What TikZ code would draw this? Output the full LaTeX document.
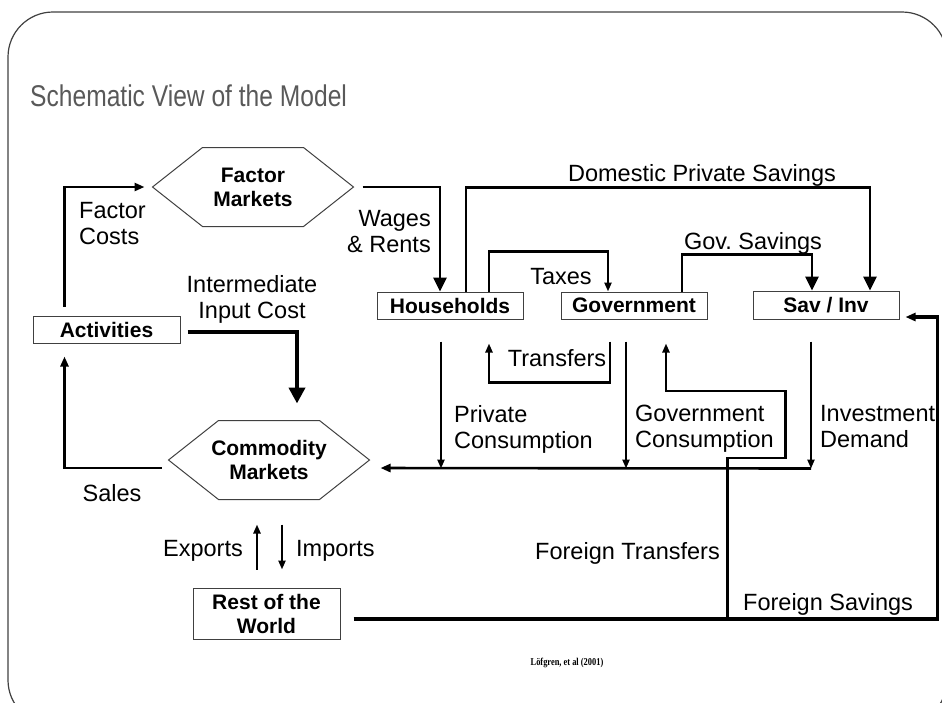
\documentclass[tikz,border=0pt]{standalone}
\usepackage{fontspec}
\setmainfont{Liberation Sans}
\newfontfamily\titlefont[FakeStretch=0.82]{Liberation Sans}
\newfontfamily\citefont[FakeStretch=0.8]{Liberation Serif}
\usepackage{tikz}
\usetikzlibrary{arrows.meta}
\definecolor{titlegray}{RGB}{89,89,89}
\definecolor{framegray}{RGB}{64,64,64}
\frenchspacing

\begin{document}
\begin{tikzpicture}[x=1pt,y=-1pt,
  lbl/.style={inner sep=0pt, font=\fontsize{23.5}{26}\selectfont},
  box/.style={draw=black!75, line width=1pt, inner sep=0pt, align=center,
    font=\fontsize{21}{24}\bfseries\selectfont},
  mkt/.style={box, draw=none, minimum width=200pt, minimum height=78pt},
  flow/.style={line width=2.6pt, -{Triangle[length=10pt,width=8pt]}},
  thinflow/.style={line width=2.4pt, -{Triangle[length=9pt,width=7pt]}},
  bigflow/.style={line width=2.8pt, -{Triangle[length=14pt,width=13pt]}}]
\useasboundingbox (0,0) rectangle (942,702);
\clip (0,0) rectangle (942,702);
% slide frame and heading
\draw[framegray, line width=1.2pt, rounded corners=45pt] (8,12) rectangle (947,725);
\node[anchor=base west, inner sep=0pt, text=titlegray, font=\titlefont\fontsize{30}{34}\selectfont]
  (ttl) at (30,106) {Schematic View of the Model};
% markets
\node[mkt] (fm) at (253,187) {Factor\\Markets};
\node[mkt] (cm) at (269,460) {Commodity\\Markets};
\foreach \n in {fm,cm}{
  \draw[black!75, line width=1pt] (\n.west) -- ([xshift=50]\n.north west) -- ([xshift=-50]\n.north east)
    -- (\n.east) -- ([xshift=-50]\n.south east) -- ([xshift=50]\n.south west) -- cycle;}
% institutions
\node[box, minimum width=147pt, minimum height=27pt] (act) at (106.5,329.5) {Activities};
\node[box, minimum width=146pt, minimum height=27pt] (hh) at (450,305.5) {Households};
\node[box, minimum width=146pt, minimum height=27pt] (gov) at (634,305.5) {Government};
\node[box, minimum width=146pt, minimum height=28pt] (si) at (826,305) {Sav / Inv};
\node[box, minimum width=147pt, minimum height=51pt] (row) at (266.5,613.5) {Rest of the\\World};
% flows round the factor and commodity markets
\draw[flow, shorten <=9pt, shorten >=8pt] ([xshift=32]act.north west) |- (fm.west);
\draw[flow, shorten <=7pt, shorten >=13pt] ([yshift=-8]cm.west) -| ([xshift=32]act.south west);
\draw[line width=4.3pt, -{Triangle[length=16pt,width=16pt]}, shorten <=7pt, shorten >=17pt]
  ([yshift=-2.5]act.east) -| ([xshift=28]cm.north);
\draw[bigflow, shorten <=9pt] (fm.east) -| ([xshift=-10]hh.north);
% incomes, taxes and savings
\draw[bigflow] ([xshift=16]hh.north) -- ++(0,-104) -| ([xshift=44]si.north);
\draw[thinflow] ([xshift=39]hh.north) -- ++(0,-40) -| ([xshift=-26]gov.north);
\draw[bigflow] ([xshift=48]gov.north) -- ++(0,-37) -| ([xshift=-14]si.north);
\draw[thinflow, shorten <=22pt, shorten >=24pt] ([xshift=-24]gov.south) -- ++(0,63) -| ([xshift=39]hh.south);
% final demand
\path ([xshift=-15]si.south) ++(0,149) coordinate (dmd);
\draw[thinflow, shorten <=22pt] ([xshift=-15]si.south) -- (dmd);
\foreach \n/\dx in {hh/-9,gov/-8}
  \draw[thinflow, shorten <=22pt] ([xshift=\dx]\n.south) -- ([xshift=\dx]\n.south |- dmd);
\draw[flow, shorten >=11pt] (dmd) -- ([yshift=-8]cm.east);
% rest of the world
\draw[line width=3.3pt, -{Triangle[length=10pt,width=8pt]}, shorten <=13pt, shorten >=6pt]
  ([yshift=-5.5]row.east) -- ++(597,0) |- ([yshift=-12]si.east);
\path ([yshift=-5.5]row.east) ++(387,0) coordinate (ft);
\draw[thinflow, shorten >=24pt] (ft) -- ++(0,-161) -- ++(58,0) -- ++(0,-67) -| ([xshift=32]gov.south);
\draw[thinflow, shorten <=18pt, shorten >=25pt] ([xshift=-9.5]row.north) -- ([xshift=-12]cm.south);
\draw[thinflow, shorten <=25pt, shorten >=18pt] ([xshift=13]cm.south) -- ([xshift=15.5]row.north);
% labels
\node[lbl, anchor=north west, align=left] at (79,202) {Factor\\Costs};
\node[lbl, anchor=north east, align=right] at (431,210) {Wages\\\& Rents};
\node[lbl, anchor=north, align=center] at (252,275) {Intermediate\\Input Cost};
\node[lbl, anchor=north] at (702,164) {Domestic Private Savings};
\node[lbl, anchor=north] at (561,268) {Taxes};
\node[lbl, anchor=north] at (753,232) {Gov. Savings};
\node[lbl, anchor=north] at (557,349) {Transfers};
\node[lbl, anchor=north west, align=left] at (454,405) {Private\\Consumption};
\node[lbl, anchor=north west, align=left] at (635,405) {Government\\Consumption};
\node[lbl, anchor=north west, align=left] at (820,405) {Investment\\Demand};
\node[lbl, anchor=north] at (112,484) {Sales};
\node[lbl, anchor=north east] at (243,540) {Exports};
\node[lbl, anchor=north west] at (296,540) {Imports};
\node[lbl, anchor=north east] at (720,542) {Foreign Transfers};
\node[lbl, anchor=north west] at (743,593) {Foreign Savings};
\node[inner sep=0pt, font=\citefont\bfseries\fontsize{10.5}{12}\selectfont] (src) at (567,663) {Löfgren, et al (2001)};
\end{tikzpicture}
\end{document}
